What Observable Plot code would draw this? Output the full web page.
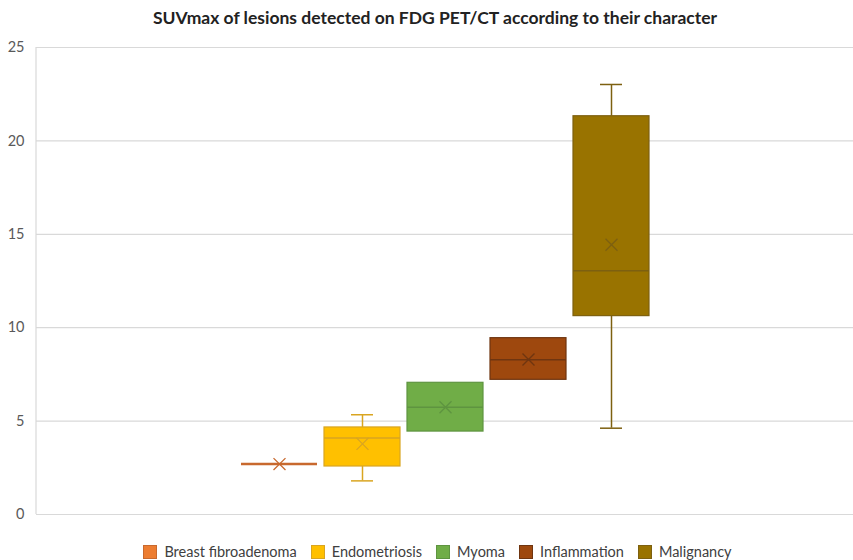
<!DOCTYPE html>
<html>
<head>
<meta charset="utf-8">
<script src="https://cdn.jsdelivr.net/npm/d3@7"></script>
<script src="https://cdn.jsdelivr.net/npm/@observablehq/plot@0.6"></script>
<style>
  body { margin: 0; background: #fff; font-family: Lato, "Open Sans", sans-serif; }
  #wrap { width: 853px; height: 560px; position: relative; overflow: hidden; }
  #title { height: 36px; line-height: 36px; text-align: center; font-weight: bold; font-size: 17.5px; color: #222; padding-left: 17px; box-sizing: border-box; }
  #legend { display: flex; justify-content: center; align-items: center; gap: 14px; font-size: 14.5px; color: #404040; margin-top: 13px; padding-left: 22px; }
  #legend .item { display: flex; align-items: center; gap: 7px; }
  #legend .sw { width: 14px; height: 14px; box-sizing: border-box; border: 1px solid; }
</style>
</head>
<body>
<div id="wrap">
  <div id="title">SUVmax of lesions detected on FDG PET/CT according to their character</div>
  <div id="chart"></div>
  <div id="legend"></div>
</div>
<script>
const categories = ["Breast fibroadenoma", "Endometriosis", "Myoma", "Inflammation", "Malignancy"];
const minValues    = [2.7, 1.8, 4.44, 7.21, 4.62];
const q1Values     = [2.7, 2.57, 4.44, 7.21, 10.62];
const medianValues = [2.7, 4.1, 5.74, 8.28, 13.05];
const q3Values     = [2.7, 4.66, 7.05, 9.44, 21.32];
const maxValues    = [2.7, 5.34, 7.05, 9.44, 23.02];
const meanValues   = [2.7, 3.78, 5.74, 8.3, 14.44];
const yTicks = [0, 5, 10, 15, 20, 25];

const fillColors   = ["#ED7D31", "#FFC000", "#70AD47", "#9E480E", "#997300"];
const strokeColors = ["#C8692E", "#D9A521", "#5E9440", "#6F3510", "#7D6010"];

const data = categories.map((c, i) => ({
  cat: c, min: minValues[i], q1: q1Values[i], median: medianValues[i],
  q3: q3Values[i], max: maxValues[i], mean: meanValues[i],
  fill: fillColors[i], stroke: strokeColors[i]
}));
const boxes = data.filter(d => d.q3 > d.q1);
const flat = data.filter(d => d.q3 === d.q1);

// left axis line drawn from the y scale
function leftAxisLine(index, scales, values, dimensions) {
  const y = scales.y;
  const x0 = dimensions.marginLeft;
  return d3.create("svg:line")
    .attr("x1", x0).attr("x2", x0)
    .attr("y1", y(0)).attr("y2", y(25))
    .attr("stroke", "#d9d9d9").attr("stroke-width", 1.2)
    .node();
}

const chart = Plot.plot({
  width: 853,
  height: 494,
  marginLeft: 36,
  marginRight: 0,
  marginTop: 11,
  marginBottom: 16,
  style: { fontFamily: "Lato, 'Open Sans', sans-serif", fontSize: "14.5px", color: "#595959", background: "#fff" },
  x: { domain: categories, paddingInner: 0.09, paddingOuter: 2.46, axis: null },
  y: { domain: [0, 25], ticks: yTicks, tickSize: 0, tickPadding: 12, label: null, grid: false },
  color: { type: "identity" },
  marks: [
    Plot.ruleY(yTicks, { stroke: "#d9d9d9", strokeWidth: 1.2 }),
    leftAxisLine,
    // whiskers
    Plot.ruleX(boxes, { x: "cat", y1: "min", y2: "q1", stroke: "stroke", strokeWidth: 1.5 }),
    Plot.ruleX(boxes, { x: "cat", y1: "q3", y2: "max", stroke: "stroke", strokeWidth: 1.5 }),
    Plot.tickY(boxes.filter(d => d.min < d.q1), { x: "cat", y: "min", stroke: "stroke", strokeWidth: 1.5, insetLeft: 27, insetRight: 27 }),
    Plot.tickY(boxes.filter(d => d.max > d.q3), { x: "cat", y: "max", stroke: "stroke", strokeWidth: 1.5, insetLeft: 27, insetRight: 27 }),
    // boxes
    Plot.barY(boxes, { x: "cat", y1: "q1", y2: "q3", fill: "fill", stroke: "stroke", strokeWidth: 1.2 }),
    // median
    Plot.tickY(boxes, { x: "cat", y: "median", stroke: "stroke", strokeWidth: 1.5 }),
    // flat box (single value)
    Plot.tickY(flat, { x: "cat", y: "median", stroke: "stroke", strokeWidth: 2.5 }),
    // mean markers
    Plot.dot(data, { x: "cat", y: "mean", symbol: "times", r: 5.5, stroke: "stroke", strokeWidth: 1.3 })
  ]
});
document.getElementById("chart").appendChild(chart);

const legend = document.getElementById("legend");
categories.forEach((c, i) => {
  const item = document.createElement("div");
  item.className = "item";
  const sw = document.createElement("span");
  sw.className = "sw";
  sw.style.background = fillColors[i];
  sw.style.borderColor = strokeColors[i];
  const lab = document.createElement("span");
  lab.textContent = c;
  item.appendChild(sw);
  item.appendChild(lab);
  legend.appendChild(item);
});
</script>
</body>
</html>
